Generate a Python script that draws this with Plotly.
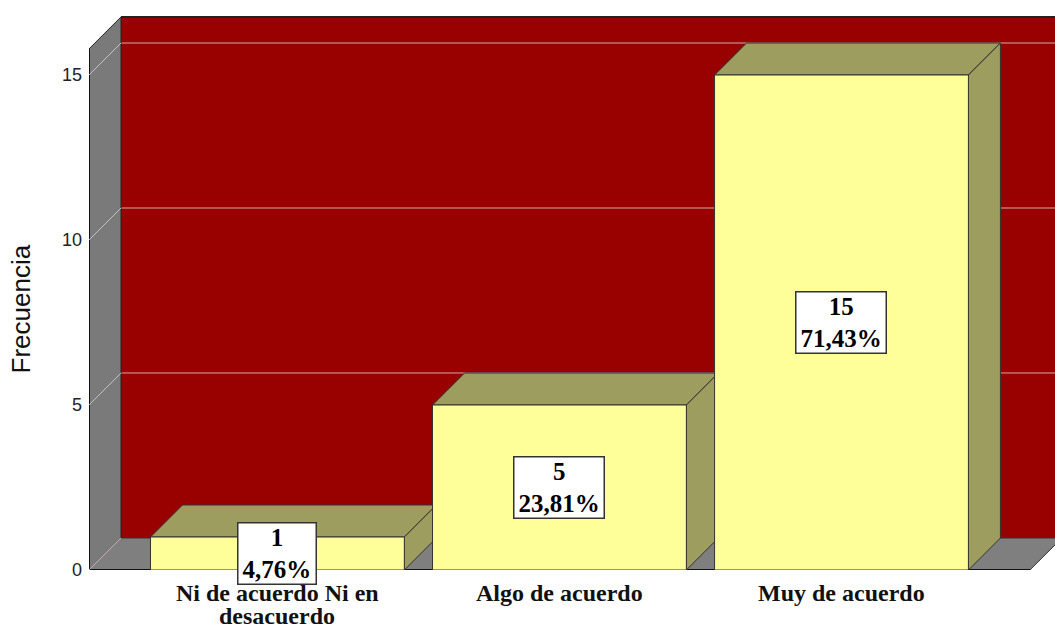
import plotly.graph_objects as go

# Data
categorias = ["Ni de acuerdo Ni en desacuerdo", "Algo de acuerdo", "Muy de acuerdo"]
lineas_categoria = [["Ni de acuerdo Ni en", "desacuerdo"], ["Algo de acuerdo"], ["Muy de acuerdo"]]
frecuencias = [1, 5, 15]
y_ticks = [0, 5, 10, 15]

total = sum(frecuencias)
porcentajes = [f"{100 * f / total:.2f}".replace(".", ",") + "%" for f in frecuencias]

# Pseudo-3D geometry (axis units)
BAR_W = 0.9
DX, DY = 0.1135, 0.97          # depth offset of the back planes
X_LEFT, X_RIGHT = -0.668, 2.668
WALL_TOP = 15.79
X_RANGE = [-0.668, 2.757]
Y_RANGE = [0, 16.97]

WALL_RED = "#990000"
WALL_GRAY = "#7a7a7a"
FLOOR_GRAY = "#7f7f7f"
BAR_FRONT = "#ffff99"
BAR_SHADE = "#9e9d60"
EDGE = "#333333"
GRID = "rgba(215,205,205,0.85)"

SERIF = "Liberation Serif"
SANS = "Liberation Sans"
LABEL_SIZE = 25
CAT_SIZE = 24

shapes = []

# back wall
shapes.append(dict(type="rect", xref="x", yref="y", layer="below",
                   x0=X_LEFT + DX, x1=X_RIGHT + DX, y0=DY, y1=WALL_TOP + DY,
                   fillcolor=WALL_RED, line=dict(width=0)))
shapes.append(dict(type="line", xref="x", yref="y", layer="below",
                   x0=X_LEFT + DX, x1=X_RIGHT + DX, y0=WALL_TOP + DY, y1=WALL_TOP + DY,
                   line=dict(color="#222", width=2)))
for v in y_ticks[1:]:
    shapes.append(dict(type="line", xref="x", yref="y", layer="below",
                       x0=X_LEFT + DX, x1=X_RIGHT + DX, y0=v + DY, y1=v + DY,
                       line=dict(color=GRID, width=1)))

# floor
shapes.append(dict(type="path", xref="x", yref="y", layer="below",
                   path=f"M {X_LEFT},0 L {X_RIGHT},0 L {X_RIGHT + DX},{DY} L {X_LEFT + DX},{DY} Z",
                   fillcolor=FLOOR_GRAY, line=dict(color=EDGE, width=1)))
shapes.append(dict(type="line", xref="x", yref="y", layer="below",
                   x0=X_LEFT, x1=X_RIGHT, y0=0, y1=0,
                   line=dict(color="#111", width=2)))

# left side wall
shapes.append(dict(type="path", xref="x", yref="y", layer="below",
                   path=(f"M {X_LEFT},0 L {X_LEFT},{WALL_TOP} L {X_LEFT + DX},{WALL_TOP + DY} "
                         f"L {X_LEFT + DX},{DY} Z"),
                   fillcolor=WALL_GRAY, line=dict(color="#222", width=1)))
shapes.append(dict(type="line", xref="x", yref="y", layer="below",
                   x0=X_LEFT, x1=X_LEFT, y0=0, y1=WALL_TOP,
                   line=dict(color="#111", width=2)))
for v in y_ticks:
    shapes.append(dict(type="line", xref="x", yref="y", layer="below",
                       x0=X_LEFT, x1=X_LEFT + DX, y0=v, y1=v + DY,
                       line=dict(color=GRID, width=1)))

# top and side faces of each bar
for i, f in enumerate(frecuencias):
    xl, xr = i - BAR_W / 2, i + BAR_W / 2
    shapes.append(dict(type="path", xref="x", yref="y", layer="below",
                       path=f"M {xl},{f} L {xr},{f} L {xr + DX},{f + DY} L {xl + DX},{f + DY} Z",
                       fillcolor=BAR_SHADE, line=dict(color=EDGE, width=1)))
    shapes.append(dict(type="path", xref="x", yref="y", layer="below",
                       path=f"M {xr},0 L {xr},{f} L {xr + DX},{f + DY} L {xr + DX},{DY} Z",
                       fillcolor=BAR_SHADE, line=dict(color=EDGE, width=1)))

fig = go.Figure()
fig.add_trace(go.Bar(
    x=list(range(len(categorias))), y=frecuencias, width=BAR_W,
    marker=dict(color=BAR_FRONT, line=dict(color=EDGE, width=1)),
    hovertext=categorias, hoverinfo="text+y", showlegend=False,
))


def ancho_etiqueta(texto, size):
    # rough advance widths of a bold Times-style face
    em = sum(1.0 if c == "%" else 0.25 if c == "," else 0.5 for c in texto)
    return em * size + 8


annotations = []
for i, (f, p) in enumerate(zip(frecuencias, porcentajes)):
    annotations.append(dict(
        x=i, y=f / 2, xref="x", yref="y", showarrow=False,
        text=f"{f}<br>{p}", width=ancho_etiqueta(p, LABEL_SIZE),
        font=dict(family=SERIF, size=LABEL_SIZE, color="#000", weight="bold"),
        bgcolor="#ffffff", bordercolor="#333", borderwidth=1.5, borderpad=0,
    ))

# category labels under each bar, one annotation per text line
for i, lineas in enumerate(lineas_categoria):
    for k, linea in enumerate(lineas):
        annotations.append(dict(
            x=i, y=0, xref="x", yref="paper", yanchor="middle", showarrow=False,
            yshift=-23 - 23 * k, text=linea,
            font=dict(family=SERIF, size=CAT_SIZE, color="#111", weight="bold"),
        ))

# vertical axis title, centred on the front wall
annotations.append(dict(
    x=0, xref="paper", xshift=-68, xanchor="center",
    y=WALL_TOP / 2, yref="y", yanchor="middle",
    text="Frecuencia", textangle=-90, showarrow=False,
    font=dict(family=SANS, size=26, color="#111"),
))

fig.update_layout(
    width=1055, height=630,
    margin=dict(l=89, r=0, t=10, b=60),
    paper_bgcolor="white", plot_bgcolor="white",
    shapes=shapes, annotations=annotations,
    xaxis=dict(range=X_RANGE, tickvals=list(range(len(categorias))), ticktext=categorias,
               showticklabels=False, showgrid=False, zeroline=False, showline=False, ticks=""),
    yaxis=dict(range=Y_RANGE, tickvals=y_ticks, showgrid=False, zeroline=False,
               showline=False, ticks="", ticklabelstandoff=6,
               tickfont=dict(family=SANS, size=18, color="#222")),
)

fig.write_html("out.html")
